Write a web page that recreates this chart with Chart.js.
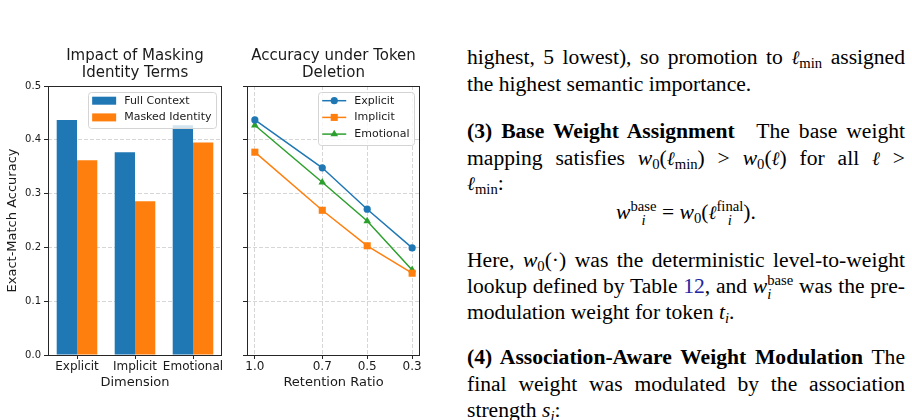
<!DOCTYPE html>
<html>
<head>
<meta charset="utf-8">
<script src="https://cdn.jsdelivr.net/npm/chart.js@4.4.1/dist/chart.umd.min.js"></script>
<style>
  html, body { margin:0; padding:0; background:#fff; }
  body { width:912px; height:420px; position:relative; overflow:hidden; }
  canvas { position:absolute; top:0; }
  #maskChart { left:0; }
  #delChart { left:232px; }
  #text { position:absolute; left:467px; top:0; width:438px; height:420px;
          font-family:"Liberation Serif","Times New Roman",serif; font-size:21.6px; color:#000; }
  #text .ln { position:absolute; left:0; width:438px; height:26px; line-height:26px; white-space:nowrap; }
  #text .j { text-align:justify; text-align-last:justify; white-space:normal; }
  #text .c { text-align:center; }
  #text sub { font-size:68%; vertical-align:-0.3em; line-height:0; }
  #text .m { display:inline-block; white-space:nowrap; }
  #text .ss { display:inline-block; font-size:68%; line-height:0.95; vertical-align:-0.4em; }
  #text .ss span { display:block; }
  #text .ell { font-family:"DejaVu Serif", serif; font-style:italic; font-size:88%; }
  #text .link { color:#2323a0; }
</style>
</head>
<body>
<canvas id="maskChart" width="232" height="400"></canvas>
<canvas id="delChart" width="208" height="400"></canvas>

<div id="text">
  <div class="ln j" style="top:44px">highest, 5 lowest), so promotion to <span class="m"><span class="ell">ℓ</span><sub>min</sub></span> assigned</div>
  <div class="ln" style="top:71px">the highest semantic importance.</div>
  <div class="ln j" style="top:118px"><b>(3) Base Weight Assignment</b>&emsp;The base weight</div>
  <div class="ln j" style="top:145px">mapping satisfies <span class="m"><i>w</i><sub>0</sub>(<span class="ell">ℓ</span><sub>min</sub>)</span> &gt; <span class="m"><i>w</i><sub>0</sub>(<span class="ell">ℓ</span>)</span> for all <span class="m"><span class="ell">ℓ</span></span> &gt;</div>
  <div class="ln" style="top:170px"><span class="m"><span class="ell">ℓ</span><sub>min</sub>:</span></div>
  <div class="ln c" style="top:199px"><i>w</i><span class="ss"><span>base</span><span><i>i</i></span></span> = <i>w</i><sub>0</sub>(<span class="ell">ℓ</span><span class="ss"><span>final</span><span><i>i</i></span></span>).</div>
  <div class="ln j" style="top:247px">Here, <span class="m"><i>w</i><sub>0</sub>(·)</span> was the deterministic level-to-weight</div>
  <div class="ln j" style="top:273px">lookup defined by Table <span class="link">12</span>, and <span class="m"><i>w</i><span class="ss"><span>base</span><span><i>i</i></span></span></span> was the pre-</div>
  <div class="ln" style="top:299px">modulation weight for token <i>t</i><sub><i>i</i></sub>.</div>
  <div class="ln j" style="top:344px"><b>(4) Association-Aware Weight Modulation</b> The</div>
  <div class="ln j" style="top:371px">final weight was modulated by the association</div>
  <div class="ln" style="top:397px">strength <i>s</i><sub><i>i</i></sub>:</div>
</div>

<script>
// ---- data ----
const dimensions = ["Explicit", "Implicit", "Emotional"];
const fullContext = [0.437, 0.377, 0.427];
const maskedIdentity = [0.362, 0.286, 0.395];

const retention = [1.0, 0.7, 0.5, 0.3];
const explicitAcc = [0.437, 0.348, 0.271, 0.199];
const implicitAcc = [0.377, 0.269, 0.203, 0.152];
const emotionalAcc = [0.427, 0.321, 0.249, 0.158];

const yTicks = [0.0, 0.1, 0.2, 0.3, 0.4, 0.5];

// ---- styles ----
const BLUE = "#1f77b4";
const ORANGE = "#ff7f0e";
const GREEN = "#2ca02c";
const TEXT = "#1a1a1a";
const AXIS = "#262626";
const GRID = "rgba(176,176,176,0.65)";

Chart.defaults.font.family = "'DejaVu Sans', sans-serif";
Chart.defaults.color = TEXT;

function toPoints(xs, ys){
  return xs.map((x, i) => ({ x, y: ys[i] }));
}

// full box around the plot area, like matplotlib spines
const frame = {
  id: "frame",
  afterDraw(chart){
    const { ctx, chartArea: a } = chart;
    ctx.save();
    ctx.strokeStyle = AXIS;
    ctx.lineWidth = 1;
    ctx.strokeRect(Math.round(a.left) + 0.5, Math.round(a.top) + 0.5,
                   Math.round(a.right - a.left) - 1, Math.round(a.bottom - a.top));
    ctx.restore();
  }
};

// legend drawn inside the plot area, upper right
const innerLegend = {
  id: "innerLegend",
  afterDraw(chart, args, opts){
    const items = opts.items || [];
    if(!items.length) return;
    const { ctx, chartArea: a } = chart;
    ctx.save();
    ctx.font = "11px 'DejaVu Sans'";
    const textW = Math.max(...items.map(it => ctx.measureText(it.label).width));
    const pad = 4, handleW = 24, gap = 8, rowH = 16.7;
    const w = pad + handleW + gap + textW + pad + 1;
    const h = items.length * rowH + 2.6;
    const x = a.right - 5.5 - w;
    const y = a.top + 5.7;

    ctx.beginPath();
    ctx.roundRect(Math.round(x) + 0.5, Math.round(y) + 0.5, Math.round(w), Math.round(h), 3);
    ctx.fillStyle = "rgba(255,255,255,0.8)";
    ctx.fill();
    ctx.strokeStyle = "#d4d4d4";
    ctx.lineWidth = 1;
    ctx.stroke();

    items.forEach((it, i) => {
      const cy = y + 9 + i * rowH;
      const hx = x + pad;
      if(it.kind === "box"){
        ctx.fillStyle = it.color;
        ctx.fillRect(hx, cy - 4, handleW, 8);
      } else {
        ctx.strokeStyle = it.color;
        ctx.lineWidth = 1.5;
        ctx.beginPath();
        ctx.moveTo(hx, cy);
        ctx.lineTo(hx + handleW, cy);
        ctx.stroke();
        ctx.fillStyle = it.color;
        Chart.helpers.drawPoint(ctx, { pointStyle: it.style, radius: it.radius, rotation: 0, borderWidth: 0 }, hx + handleW / 2, cy);
      }
      ctx.fillStyle = TEXT;
      ctx.textBaseline = "middle";
      ctx.textAlign = "left";
      ctx.fillText(it.label, hx + handleW + gap, cy);
    });
    ctx.restore();
  }
};

function yAxis(width, showLabels){
  return {
    min: 0, max: 0.5,
    afterBuildTicks(scale){ scale.ticks = yTicks.map(v => ({ value: v })); },
    afterFit(scale){ scale.width = width; },
    border: { display: false, dash: [4, 2] },
    grid: { color: GRID, lineWidth: 0.8, tickLength: 4, tickColor: AXIS, tickWidth: 1, tickBorderDash: [] },
    ticks: { display: showLabels, font: { size: 10 }, color: TEXT, padding: 3, callback: v => Number(v).toFixed(1) },
    title: {
      display: showLabels, text: "Exact-Match Accuracy",
      font: { size: 13 }, color: TEXT, padding: { top: 5, bottom: 0 }
    }
  };
}

function chartTitle(lines){
  return {
    display: true, text: lines, fullSize: false, color: TEXT,
    font: { size: 15, weight: "normal", lineHeight: 1.1 },
    padding: { top: 48, bottom: 5 }
  };
}

// ---- left: bar chart ----
new Chart(document.getElementById("maskChart"), {
  type: "bar",
  data: {
    labels: dimensions,
    datasets: [
      { label: "Full Context", data: fullContext, backgroundColor: BLUE },
      { label: "Masked Identity", data: maskedIdentity, backgroundColor: ORANGE }
    ]
  },
  plugins: [frame, innerLegend],
  options: {
    responsive: false,
    animation: false,
    layout: { padding: { left: 0, right: 10, top: 0, bottom: 0 } },
    datasets: { bar: { categoryPercentage: 0.7, barPercentage: 1.0 } },
    plugins: {
      legend: { display: false },
      tooltip: { enabled: false },
      title: chartTitle(["Impact of Masking", "Identity Terms"]),
      innerLegend: {
        items: [
          { label: "Full Context", color: BLUE, kind: "box" },
          { label: "Masked Identity", color: ORANGE, kind: "box" }
        ]
      }
    },
    scales: {
      x: {
        afterFit(scale){ scale.height = 45; },
        border: { display: false },
        grid: { offset: false, drawOnChartArea: false, tickLength: 4, tickColor: AXIS, tickWidth: 1 },
        ticks: { font: { size: 12 }, color: TEXT, padding: 1, maxRotation: 0, minRotation: 0, autoSkip: false },
        title: { display: true, text: "Dimension", font: { size: 13 }, color: TEXT, padding: { top: 0, bottom: 9.5 } }
      },
      y: yAxis(48, true)
    }
  }
});

// ---- right: line chart ----
new Chart(document.getElementById("delChart"), {
  type: "line",
  data: {
    datasets: [
      { label: "Explicit", data: toPoints(retention, explicitAcc), borderColor: BLUE, backgroundColor: BLUE, pointStyle: "circle", pointRadius: 3.6 },
      { label: "Implicit", data: toPoints(retention, implicitAcc), borderColor: ORANGE, backgroundColor: ORANGE, pointStyle: "rect", pointRadius: 5 },
      { label: "Emotional", data: toPoints(retention, emotionalAcc), borderColor: GREEN, backgroundColor: GREEN, pointStyle: "triangle", pointRadius: 4.4 }
    ]
  },
  plugins: [frame, innerLegend],
  options: {
    responsive: false,
    animation: false,
    layout: { padding: { left: 0, right: 20, top: 0, bottom: 0 } },
    elements: {
      line: { borderWidth: 1.5, tension: 0 },
      point: { borderWidth: 0 }
    },
    plugins: {
      legend: { display: false },
      tooltip: { enabled: false },
      title: chartTitle(["Accuracy under Token", "Deletion"]),
      innerLegend: {
        items: [
          { label: "Explicit", color: BLUE, kind: "line", style: "circle", radius: 3.6 },
          { label: "Implicit", color: ORANGE, kind: "line", style: "rect", radius: 5 },
          { label: "Emotional", color: GREEN, kind: "line", style: "triangle", radius: 4.4 }
        ]
      }
    },
    scales: {
      x: {
        type: "linear",
        reverse: true,
        min: 0.265, max: 1.035,
        afterBuildTicks(scale){ scale.ticks = retention.map(v => ({ value: v })); },
        afterFit(scale){ scale.height = 45; },
        border: { display: false, dash: [4, 2] },
        grid: { color: GRID, lineWidth: 0.8, tickLength: 4, tickColor: AXIS, tickWidth: 1, tickBorderDash: [] },
        ticks: { font: { size: 12 }, color: TEXT, padding: 1, maxRotation: 0, minRotation: 0, callback: v => Number(v).toFixed(1) },
        title: { display: true, text: "Retention Ratio", font: { size: 13 }, color: TEXT, padding: { top: 0, bottom: 9.5 } }
      },
      y: yAxis(15, false)
    }
  }
});
</script>
</body>
</html>
